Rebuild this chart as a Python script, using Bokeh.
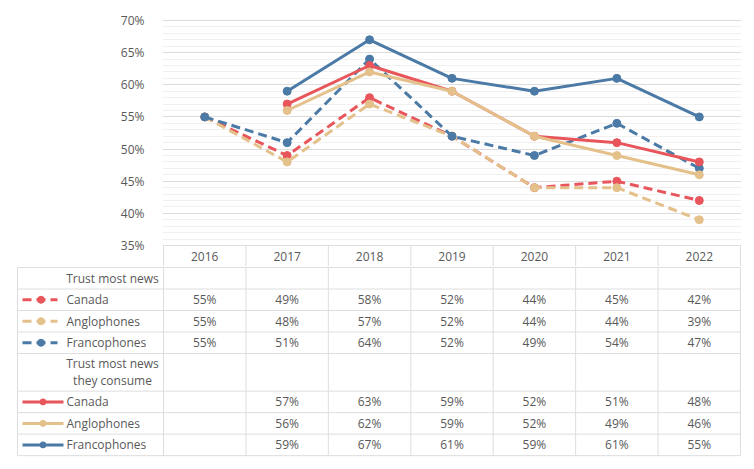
from bokeh.plotting import figure
from bokeh.layouts import column
from bokeh.models import Range1d, FixedTicker, PrintfTickFormatter
from bokeh.embed import file_html
from bokeh.resources import INLINE
from bokeh.core.properties import value

# ---------------- data ----------------
years = [2016, 2017, 2018, 2019, 2020, 2021, 2022]
series_names = ["Canada", "Anglophones", "Francophones"]
group_titles = ["Trust most news", "Trust most news\nthey consume"]

most_canada = [55, 49, 58, 52, 44, 45, 42]
most_anglo = [55, 48, 57, 52, 44, 44, 39]
most_franco = [55, 51, 64, 52, 49, 54, 47]

consume_canada = [None, 57, 63, 59, 52, 51, 48]
consume_anglo = [None, 56, 62, 59, 52, 49, 46]
consume_franco = [None, 59, 67, 61, 59, 61, 55]

y_ticks = [35, 40, 45, 50, 55, 60, 65, 70]

# ---------------- style / layout ----------------
FONT = "Open Sans"
FS = "12px"
TXT = "#595959"
GRID = "#dcdcdc"
MINOR = "#f0f0f0"
TABLE_LINE = "#dedede"
colors = {"Canada": "#e8555b", "Anglophones": "#e4c08b", "Francophones": "#4a7aa5"}
DASH = "9 5"

W = 754
PX_X = 577 / 7          # pixels per year column
PX_Y = 225 / 35         # pixels per percentage point
ROW_PX = 21.5           # pixels per table row


def nan(v):
    return [float("nan") if x is None else x for x in v]


most = {"Canada": most_canada, "Anglophones": most_anglo, "Francophones": most_franco}
consume = {"Canada": consume_canada, "Anglophones": consume_anglo, "Francophones": consume_franco}

x0, x1 = years[0] - 0.5, years[-1] + 0.5


def px_x(px):
    return x0 + (px - 163) / PX_X


# ---------------- chart (incl. header row with years) ----------------
y_base = y_ticks[0]
header_mid = y_base - 11 / PX_Y
y_bottom = y_base - 21 / PX_Y
p = figure(width=W, height=266,
           x_range=Range1d(px_x(162), px_x(741)),
           y_range=Range1d(y_bottom, y_ticks[-1] + 6 / PX_Y),
           output_backend="svg", toolbar_location=None,
           x_axis_location=None,
           min_border_left=162, min_border_right=W - 741, min_border_top=14, min_border_bottom=0)
p.frame_align = False
p.outline_line_color = None
p.background_fill_color = "white"
p.border_fill_color = "white"

minor_y = [v for v in range(y_ticks[0], y_ticks[-1]) if v % 5 != 0]
p.yaxis.ticker = FixedTicker(ticks=y_ticks, minor_ticks=minor_y)
p.yaxis.formatter = PrintfTickFormatter(format="%d%%")
p.yaxis.axis_line_color = None
p.yaxis.major_tick_line_color = None
p.yaxis.minor_tick_line_color = None
p.yaxis.major_label_standoff = 12
p.yaxis.major_label_text_font = FONT
p.yaxis.major_label_text_font_size = FS
p.yaxis.major_label_text_color = TXT
p.xgrid.grid_line_color = None
p.ygrid.grid_line_color = GRID
p.ygrid.minor_grid_line_color = MINOR

# header row: year labels and column separators
sep = [y - 0.5 for y in years] + [x1]
p.segment(x0=sep, x1=sep, y0=[y_base] * len(sep), y1=[y_bottom] * len(sep),
          line_color=TABLE_LINE, line_width=1)
p.segment(x0=[x0], x1=[x1], y0=[y_base], y1=[y_base], line_color=TABLE_LINE, line_width=1)
p.text(x=years, y=[header_mid] * len(years), text=[str(y) for y in years],
       text_align="center", text_baseline="middle", text_font=value(FONT),
       text_font_size=FS, text_color=TXT)

for name in series_names:
    v = nan(most[name])
    p.line(years, v, line_color=colors[name], line_width=3, line_dash=DASH)
    p.scatter(years, v, size=8, color=colors[name])
for name in series_names:
    v = nan(consume[name])
    p.line(years, v, line_color=colors[name], line_width=3)
    p.scatter(years, v, size=8, color=colors[name])

# ---------------- table ----------------
row_heights = [1, 1, 1, 1, 1.75, 1, 1, 1]
bounds = [0]
for h in row_heights:
    bounds.append(bounds[-1] + h)
centers = [(bounds[i] + bounds[i + 1]) / 2 for i in range(len(row_heights))]

t = figure(width=W, height=194,
           x_range=Range1d(px_x(12), px_x(745)),
           y_range=Range1d(193 / ROW_PX, -1 / ROW_PX),
           output_backend="svg", toolbar_location=None,
           x_axis_location=None, y_axis_location=None,
           min_border_left=12, min_border_right=W - 745, min_border_top=0, min_border_bottom=0)
t.frame_align = False
t.outline_line_color = None
t.grid.visible = False
t.background_fill_color = "white"
t.border_fill_color = "white"

t.segment(x0=[px_x(17)] * len(bounds), x1=[x1] * len(bounds), y0=bounds, y1=bounds,
          line_color=TABLE_LINE, line_width=1)
vx = [px_x(17)] + sep
t.segment(x0=vx, x1=vx, y0=[bounds[0]] * len(vx), y1=[bounds[-1]] * len(vx),
          line_color=TABLE_LINE, line_width=1)

t.text(x=[px_x(112)] * 2, y=[centers[0], centers[4]], text=group_titles,
       text_align="center", text_baseline="middle", text_font=value(FONT),
       text_font_size=FS, text_color=TXT, text_line_height=0.98)

groups = [(most, 1, True), (consume, 5, False)]
for data, start_row, dashed in groups:
    for i, name in enumerate(series_names):
        r = start_row + i
        yc = centers[r]
        if dashed:
            t.segment(x0=[px_x(22)], x1=[px_x(57)], y0=[yc], y1=[yc], line_color=colors[name],
                      line_width=3, line_dash=DASH)
            t.scatter([px_x(40.5)], [yc], size=7, color=colors[name])
        else:
            t.segment(x0=[px_x(22)], x1=[px_x(63)], y0=[yc], y1=[yc], line_color=colors[name],
                      line_width=3)
            t.scatter([px_x(42.5)], [yc], size=6, color=colors[name])
        t.text(x=[px_x(66)], y=[yc], text=[name], text_align="left", text_baseline="middle",
               text_font=value(FONT), text_font_size=FS, text_color=TXT)
        vals = data[name]
        xs = [yr for yr, v in zip(years, vals) if v is not None]
        labels = ["%d%%" % v for v in vals if v is not None]
        t.text(x=xs, y=[yc] * len(xs), text=labels, text_align="center", text_baseline="middle",
               text_font=value(FONT), text_font_size=FS, text_color=TXT)

layout = column(p, t)
open("out.html", "w").write(file_html(layout, INLINE))
